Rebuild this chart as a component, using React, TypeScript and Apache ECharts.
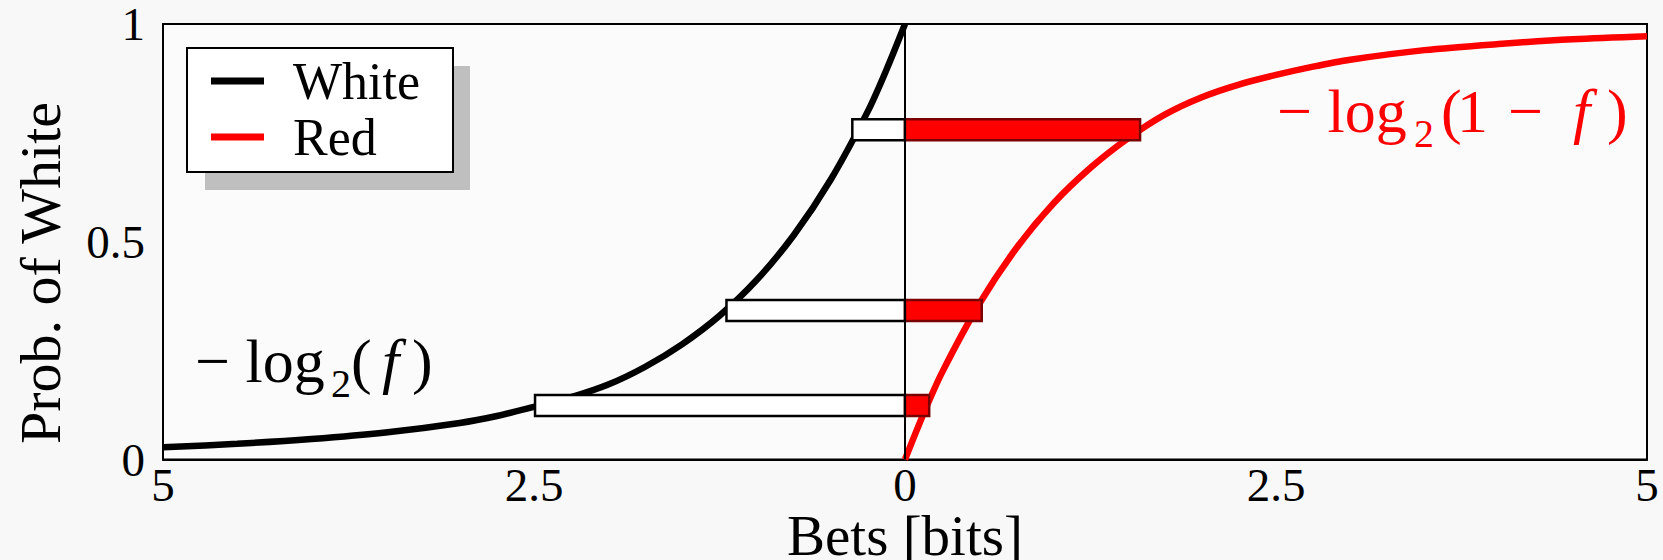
import React, { useEffect, useRef } from "react";
import * as echarts from "echarts";

// ---- data ----
const blackX = [-5, -4.5, -4, -3.5, -3, -2.75, -2.5, -2.25, -2, -1.75, -1.5, -1.25, -1, -0.75, -0.5, -0.25, -0.125, 0];
const blackY = [0.028, 0.036, 0.047, 0.062, 0.084, 0.1, 0.121, 0.143, 0.172, 0.213, 0.265, 0.33, 0.412, 0.515, 0.643, 0.8, 0.895, 1.0];
const redX = [0, 0.125, 0.25, 0.5, 0.75, 1, 1.25, 1.5, 1.75, 2, 2.25, 2.5, 2.75, 3, 3.5, 4, 4.5, 5];
const redY = [0, 0.105, 0.2, 0.357, 0.485, 0.588, 0.67, 0.737, 0.792, 0.832, 0.861, 0.883, 0.902, 0.918, 0.94, 0.954, 0.965, 0.972];
const barLevels = [0.757, 0.342, 0.124];
const whiteBarStart = [-0.355, -1.203, -2.493];
const redBarEnd = [1.584, 0.517, 0.163];
const BAR_H = 0.048;
const xTickStep = 2.5;
const yTickStep = 0.5;

const FONT = "Liberation Serif";

function mathPieces(parts: { t: string; x: number; y: number; size: number; italic?: boolean }[], color: string) {
  return parts.map((p) => ({
    type: "text",
    x: p.x,
    y: p.y,
    z: 20,
    style: {
      text: p.t,
      fontSize: p.size,
      fontFamily: FONT,
      fontStyle: p.italic ? "italic" : "normal",
      fill: color,
      align: "left",
      verticalAlign: "middle",
    },
  }));
}

export default function App() {
  const ref = useRef<HTMLDivElement>(null);
  useEffect(() => {
    if (!ref.current) return;
    const chart = echarts.init(ref.current, undefined, { renderer: "svg" });
    const blackData = blackX.map((x, i) => [x, blackY[i]]);
    const redData = redX.map((x, i) => [x, redY[i]]);
    const whiteBars = barLevels.map((y, i) => [whiteBarStart[i], 0, y]);
    const redBars = barLevels.map((y, i) => [0, redBarEnd[i], y]);
    const barRender = (fill: string, stroke: string) => (params: any, api: any) => {
      const y = api.value(2);
      const p0 = api.coord([api.value(0), y]);
      const p1 = api.coord([api.value(1), y]);
      const h = api.size([0, BAR_H])[1];
      return {
        type: "rect",
        shape: { x: p0[0], y: p0[1] - h / 2, width: p1[0] - p0[0], height: h },
        style: { fill, stroke, lineWidth: 2.5 },
      };
    };

    const leftMain = 361;
    const leftSub = 383.5;
    const rightMain = 111;
    const rightSub = 133.5;

    chart.setOption({
      animation: false,
      backgroundColor: "#f8f8f8",
      grid: {
        left: 163,
        top: 24,
        width: 1484,
        height: 435.5,
        show: true,
        borderColor: "#000",
        borderWidth: 2,
        backgroundColor: "#fbfbfb",
        containLabel: false,
        outerBoundsMode: "none",
      },
      xAxis: {
        type: "value",
        min: -5,
        max: 5,
        interval: xTickStep,
        axisLine: { show: true, lineStyle: { color: "#000", width: 2 } },
        axisTick: { show: false },
        splitLine: { show: false },
        axisLabel: {
          margin: 5.5,
          fontSize: 47,
          lineHeight: 40,
          fontFamily: FONT,
          color: "#000",
          formatter: (v: number) => String(Math.abs(v)),
        },
        name: "Bets [bits]",
        nameLocation: "middle",
        nameGap: 54,
        nameMoveOverlap: false,
        nameTextStyle: { fontSize: 57, lineHeight: 44, fontFamily: FONT, color: "#000" },
      },
      yAxis: {
        type: "value",
        min: 0,
        max: 1,
        interval: yTickStep,
        axisLine: { show: true, lineStyle: { color: "#000", width: 2 } },
        axisTick: { show: false },
        splitLine: { show: false },
        axisLabel: {
          margin: 18,
          fontSize: 47,
          lineHeight: 40,
          fontFamily: FONT,
          color: "#000",
          formatter: (v: number) => String(v),
        },
      },
      legend: {
        orient: "vertical",
        left: 211,
        top: 53,
        padding: 0,
        itemGap: 0,
        itemWidth: 53,
        itemHeight: 7,
        icon: "rect",
        z: 12,
        data: ["White", "Red"],
        textStyle: {
          fontSize: 52,
          fontFamily: FONT,
          color: "#000",
          lineHeight: 56,
          padding: [0, 0, 0, 24],
        },
      },
      graphic: [
        { type: "rect", z: 10, shape: { x: 205, y: 66, width: 265, height: 124 }, style: { fill: "#bfbfbf" } },
        {
          type: "rect",
          z: 11,
          shape: { x: 187, y: 48, width: 266, height: 124 },
          style: { fill: "#ffffff", stroke: "#000", lineWidth: 2 },
        },
        {
          type: "text",
          x: 40,
          y: 273,
          rotation: Math.PI / 2,
          style: {
            text: "Prob. of White",
            fontSize: 58,
            fontFamily: FONT,
            fill: "#000",
            align: "center",
            verticalAlign: "middle",
          },
        },
        ...mathPieces(
          [
            { t: "\u2212 log", x: 195, y: leftMain, size: 62 },
            { t: "2", x: 331, y: leftSub, size: 40 },
            { t: "(", x: 351, y: leftMain, size: 62 },
            { t: "f", x: 382, y: leftMain, size: 62, italic: true },
            { t: ")", x: 412, y: leftMain, size: 62 },
          ],
          "#000"
        ),
        ...mathPieces(
          [
            { t: "\u2212 log", x: 1277, y: rightMain, size: 62 },
            { t: "2", x: 1414, y: rightSub, size: 40 },
            { t: "(", x: 1441, y: rightMain, size: 62 },
            { t: "1", x: 1457, y: rightMain, size: 62 },
            { t: "\u2212", x: 1508, y: rightMain, size: 62 },
            { t: "f", x: 1573, y: rightMain, size: 62, italic: true },
            { t: ")", x: 1607, y: rightMain, size: 62 },
          ],
          "#ff0000"
        ),
      ],
      series: [
        {
          name: "White",
          type: "line",
          data: blackData,
          smooth: 0.3,
          showSymbol: false,
          symbol: "none",
          lineStyle: { color: "#000", width: 6.5 },
          itemStyle: { color: "#000" },
          z: 2,
        },
        {
          name: "Red",
          type: "line",
          data: redData,
          smooth: 0.3,
          showSymbol: false,
          symbol: "none",
          lineStyle: { color: "#ff0000", width: 6.5 },
          itemStyle: { color: "#ff0000" },
          z: 2,
        },
        {
          name: "whiteBars",
          type: "custom",
          renderItem: barRender("#ffffff", "#000"),
          encode: { x: [0, 1], y: 2 },
          data: whiteBars,
          z: 3,
        },
        {
          name: "redBars",
          type: "custom",
          renderItem: barRender("#ff0000", "#7a0000"),
          encode: { x: [0, 1], y: 2 },
          data: redBars,
          z: 3,
        },
        {
          name: "zero",
          type: "line",
          data: [
            [0, 0],
            [0, 1],
          ],
          symbol: "none",
          lineStyle: { color: "#000", width: 2 },
          z: 4,
        },
      ],
    });
    return () => chart.dispose();
  }, []);
  return <div ref={ref} style={{ position: "fixed", left: 0, top: 0, width: 1663, height: 560 }} />;
}
